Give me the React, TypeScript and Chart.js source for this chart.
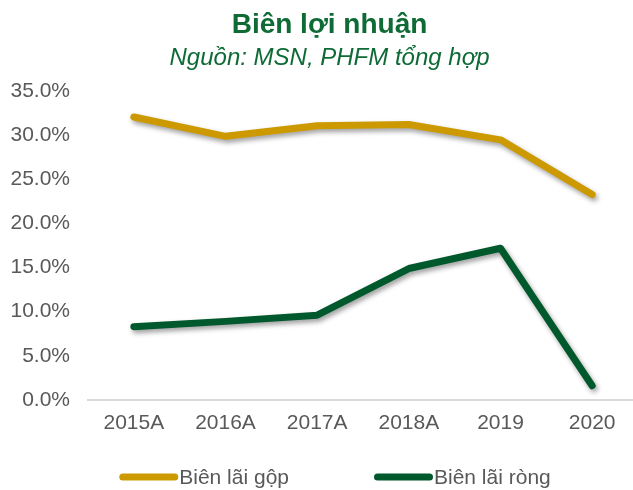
import React, { useEffect, useRef } from "react";
import { Chart, registerables } from "chart.js";

Chart.register(...registerables);

const categories = ["2015A", "2016A", "2017A", "2018A", "2019", "2020"];
const grossMargin = [32.1, 29.9, 31.1, 31.25, 29.5, 23.3];
const netMargin = [8.3, 8.9, 9.6, 14.9, 17.2, 1.6];
const seriesLabels = ["Biên lãi gộp", "Biên lãi ròng"];
const titleText = "Biên lợi nhuận";
const subtitleText = "Nguồn: MSN, PHFM tổng hợp";

const GOLD = "#CC9A00";
const GREEN = "#00582D";
const TITLE_GREEN = "#0E6B36";
const GREY = "#595959";
const FONT = "'Liberation Sans', Arial, sans-serif";

const shadowPlugin = {
  id: "lineShadow",
  beforeDatasetDraw(chart: any) {
    const ctx = chart.ctx;
    ctx.save();
    ctx.shadowColor = "rgba(0,0,0,0.38)";
    ctx.shadowBlur = 5;
    ctx.shadowOffsetX = 2;
    ctx.shadowOffsetY = 3;
  },
  afterDatasetDraw(chart: any) {
    chart.ctx.restore();
  },
};

const legendPlugin = {
  id: "customLegend",
  afterDraw(chart: any) {
    const ctx = chart.ctx;
    const datasets = chart.data.datasets;
    const lineLen = 59;
    const textGap = 1;
    const itemGap = 85;
    const y = 477;
    ctx.save();
    ctx.font = `21px ${FONT}`;
    const widths = datasets.map(
      (d: any) => lineLen + textGap + ctx.measureText(d.label).width
    );
    const total =
      widths.reduce((a: number, b: number) => a + b, 0) +
      itemGap * (datasets.length - 1);
    let x = 335 - total / 2;
    datasets.forEach((d: any, i: number) => {
      ctx.beginPath();
      ctx.strokeStyle = d.borderColor;
      ctx.lineWidth = 7;
      ctx.lineCap = "round";
      ctx.moveTo(x + 3.5, y);
      ctx.lineTo(x + lineLen - 3.5, y);
      ctx.stroke();
      ctx.fillStyle = GREY;
      ctx.textBaseline = "middle";
      ctx.textAlign = "left";
      ctx.fillText(d.label, x + lineLen + textGap, y + 1);
      x += widths[i] + itemGap;
    });
    ctx.restore();
  },
};

export default function App() {
  const ref = useRef<HTMLCanvasElement>(null);

  useEffect(() => {
    if (!ref.current) return;
    const chart = new Chart(ref.current, {
      type: "line",
      data: {
        labels: categories,
        datasets: [
          {
            label: seriesLabels[0],
            data: grossMargin,
            borderColor: GOLD,
            backgroundColor: GOLD,
            borderWidth: 7,
            pointRadius: 0,
            borderCapStyle: "round",
            borderJoinStyle: "round",
            tension: 0,
          },
          {
            label: seriesLabels[1],
            data: netMargin,
            borderColor: GREEN,
            backgroundColor: GREEN,
            borderWidth: 7,
            pointRadius: 0,
            borderCapStyle: "round",
            borderJoinStyle: "round",
            tension: 0,
          },
        ],
      },
      options: {
        responsive: false,
        animation: false,
        layout: { padding: { left: 21, right: 0, top: 0, bottom: 43 } },
        plugins: {
          legend: { display: false },
          tooltip: { enabled: false },
          title: {
            display: true,
            text: titleText,
            color: TITLE_GREEN,
            font: { family: FONT, size: 28, weight: "bold", lineHeight: 1.2 },
            padding: { top: 8.5, bottom: 0 },
          },
          subtitle: {
            display: true,
            text: subtitleText,
            color: TITLE_GREEN,
            font: { family: FONT, size: 24, style: "italic", lineHeight: 1.2 },
            padding: { top: 2, bottom: 18.5 },
          },
        },
        scales: {
          x: {
            offset: true,
            grid: { display: false, drawTicks: false },
            border: { display: true, color: "#D9D9D9", width: 2 },
            ticks: {
              color: GREY,
              font: { family: FONT, size: 21, lineHeight: 1.2 },
              padding: 11,
              maxRotation: 0,
            },
          },
          y: {
            min: 0,
            max: 35,
            grid: { display: false, drawTicks: false },
            border: { display: false },
            afterFit(scale: any) {
              scale.width = 67;
              // let the right-aligned tick labels extend past the axis box
              scale._computeLabelArea = () => undefined;
            },
            ticks: {
              stepSize: 5,
              color: GREY,
              font: { family: FONT, size: 21, lineHeight: 1.2 },
              padding: 18,
              callback: (v: any) => Number(v).toFixed(1) + "%",
            },
          },
        },
      },
      plugins: [shadowPlugin, legendPlugin],
    });
    return () => chart.destroy();
  }, []);

  return (
    <div
      style={{
        position: "fixed",
        left: 0,
        top: 0,
        width: 633,
        height: 490,
        overflow: "hidden",
        background: "#fff",
      }}
    >
      <canvas
        ref={ref}
        width={638}
        height={490}
        style={{ width: 638, height: 490, display: "block" }}
      />
    </div>
  );
}
